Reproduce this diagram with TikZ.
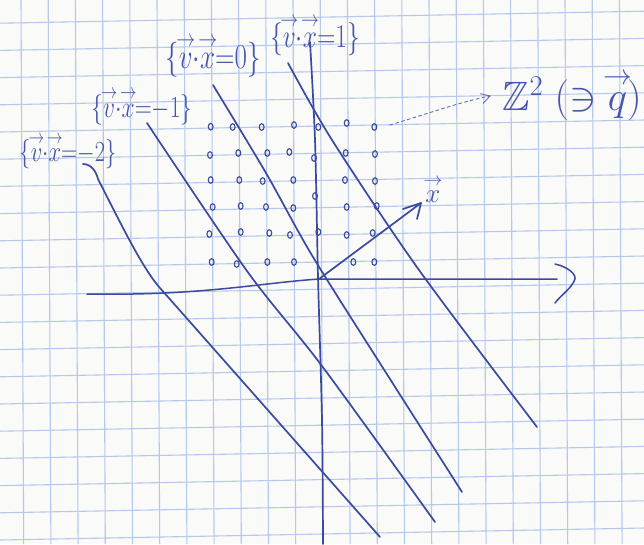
\documentclass[tikz,border=0pt]{standalone}
\usepackage{fix-cm}
\usepackage{amsmath,amssymb,mathtools}
\usepackage{graphicx}
\usetikzlibrary{arrows.meta}
\definecolor{paper}{HTML}{FAFAF8}
\definecolor{gridblue}{HTML}{B6C8EC}
\definecolor{ink}{HTML}{3A4A9E}
\definecolor{inklight}{HTML}{4556AC}
\newcommand{\tallz}[1]{\scalebox{1}[1.3]{#1}}
\newcommand{\hv}[1]{\overset{\mathclap{\scriptstyle\rightarrow}}{#1}}
\begin{document}
\begin{tikzpicture}[x=1pt,y=-1pt,
  pen/.style={draw=ink, line width=1.7pt, line cap=round, line join=round},
  gridline/.style={draw=gridblue, line width=1.1pt},
  lab/.style={text=inklight, inner sep=0pt},
  latdot/.style={draw=ink, line width=1.1pt},
  thinarrow/.style={draw=ink!80, line width=0.9pt, dashed, dash pattern=on 3pt off 3pt, line cap=round}]
\fill[paper] (0,0) rectangle (644,544);
\useasboundingbox (0,0) rectangle (644,544);
\begin{scope}
\clip (0,0) rectangle (644,544);
\foreach \k in {-1,...,20}
  \draw[gridline] (0,{23.2+27.2*\k}) -- (644,{23.2+27.2*\k-12});
\foreach \k in {0,...,23}
  \draw[gridline] ({21+27.2*\k},0) -- ({23.7+27.2*\k},544);
\end{scope}

% lattice points
\foreach \x/\y in {
  210.7/126.7, 232.7/127, 261.7/127, 294/125, 318.3/127, 346.7/123, 374.3/127,
  210/155, 238.3/153, 267.3/153, 289.3/152, 314/158, 345.7/153, 375/154,
  210.7/180, 239.3/180, 262.7/181, 293.3/180, 315/196, 345/180, 375/181,
  212.7/207, 240.7/206, 266/207, 293.3/208, 346.7/207, 376.7/206,
  209.3/234, 240.7/232, 269.3/233, 290/235, 318.3/232, 346.7/235, 372.7/233,
  211.7/262, 236.7/264, 267.3/262, 294/262, 353.3/262, 374.3/262}
  \draw[latdot] (\x,\y) ellipse [x radius=2.4pt, y radius=3.3pt];

% labels
\node[lab, font=\fontsize{22.5}{24}\selectfont] (Lm2) at (68,151) {\tallz{$\{\hv{v}{\cdot}\hv{x}{=}{-}2\}$}};
\node[lab, font=\fontsize{23.5}{25}\selectfont] (Lm1) at (142,106) {\tallz{$\{\hv{v}{\cdot}\hv{x}{=}{-}1\}$}};
\node[lab, font=\fontsize{27}{29}\selectfont] (L0) at (213,56) {\tallz{$\{\hv{v}{\cdot}\hv{x}{=}0\}$}};
\node[lab, font=\fontsize{25.5}{27}\selectfont] (L1) at (315,35) {\tallz{$\{\hv{v}{\cdot}\hv{x}{=}1\}$}};
\node[lab, font=\fontsize{41}{43}\selectfont, anchor=west] (Z) at (502,95) {$\mathbb{Z}^2\;(\ni\hv{q})$};
\node[lab, font=\fontsize{27}{29}\selectfont] (xl) at (433,189) {$\hv{x}$};

% coordinates
\coordinate (O) at (319,279);
\coordinate (xs) at (87,294);
\coordinate (xe) at (557,279);
\coordinate (tip) at (421,203);
\coordinate (qs) at (390,125);
\coordinate (qe) at (490,96);

% horizontal axis
\draw[pen, line width=1.5pt] (xs) .. controls (200,296) and (260,283) .. (O) .. controls (420,279) .. (xe);
\draw[pen, line width=1.5pt] (555,264) .. controls (568,267) and (576,274) .. (575,279) .. controls (572,288) and (561,295) .. (555,303);
% vertical axis
\draw[pen] plot[smooth] coordinates {(310,42) (315,140) (318,277) (322,420) (323,544)};

% level lines
\draw[pen] (83,164) .. controls (91,164) and (96,171) .. (98,179) .. controls (118,218) and (142,268) .. (160,288) -- (380,537);
\draw[pen] plot[smooth] coordinates {(147,123) (247,271) (322,366) (435,522)};
\draw[pen] plot[smooth] coordinates {(213,85) (266,173) (313,257) (390,379) (462,492)};
\draw[pen] plot[smooth] coordinates {(288,63) (332,140) (419,270) (537,427)};

% vector x
\draw[pen] (O) -- (tip);
\draw[pen] (403,209) -- (tip) -- (417,219);

% dashed arrow to Z^2
\draw[thinarrow] (qs) .. controls (430,113) and (460,102) .. (qe);
\draw[draw=ink!80, line width=0.9pt, line cap=round] (480.3,93.7) -- (qe) -- (483.1,103.3);
\end{tikzpicture}
\end{document}
